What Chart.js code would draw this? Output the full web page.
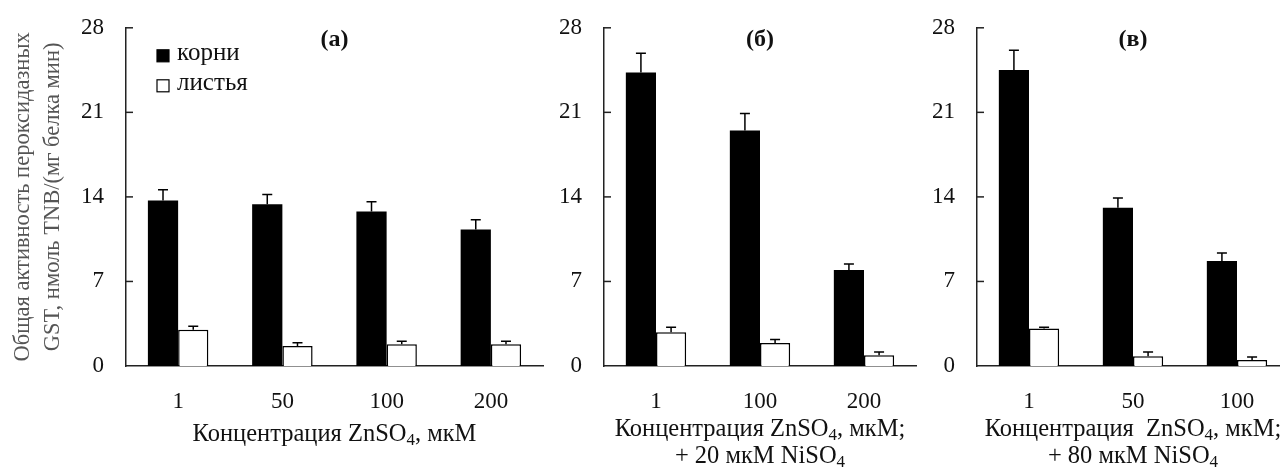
<!DOCTYPE html>
<html>
<head>
<meta charset="utf-8">
<script src="https://cdn.jsdelivr.net/npm/chart.js@4.4.1/dist/chart.umd.min.js"></script>
<style>
  html, body { margin: 0; padding: 0; background: #fff; overflow: hidden; }
  body { width: 1280px; height: 468px; position: relative; }
  canvas { position: absolute; top: 0; }
</style>
</head>
<body>
<canvas id="chartA" width="560" height="468" style="left:0px"></canvas>
<canvas id="chartB" width="400" height="468" style="left:540px"></canvas>
<canvas id="chartC" width="410" height="468" style="left:900px"></canvas>
<script>
const seriesNames = ["корни", "листья"];

// (а) ZnSO4 only
const labelsA = ["1", "50", "100", "200"];
const rootsA = [13.7, 13.4, 12.8, 11.3];
const rootsErrA = [0.9, 0.8, 0.8, 0.8];
const leavesA = [3.0, 1.65, 1.8, 1.8];
const leavesErrA = [0.3, 0.27, 0.25, 0.25];

// (б) ZnSO4 + 20 мкМ NiSO4
const labelsB = ["1", "100", "200"];
const rootsB = [24.3, 19.5, 7.95];
const rootsErrB = [1.6, 1.4, 0.5];
const leavesB = [2.8, 1.9, 0.9];
const leavesErrB = [0.4, 0.3, 0.25];

// (в) ZnSO4 + 80 мкМ NiSO4
const labelsC = ["1", "50", "100"];
const rootsC = [24.5, 13.1, 8.7];
const rootsErrC = [1.65, 0.8, 0.65];
const leavesC = [3.1, 0.8, 0.5];
const leavesErrC = [0.1, 0.35, 0.25];

const yMax = 28;
const yStep = 7;
const yTitle = ["Общая активность пероксидазных", "GST, нмоль TNB/(мг белка мин)"];
const xTitleA = ["Концентрация ZnSO₄, мкМ"];
const xTitleB = ["Концентрация ZnSO₄, мкМ;", "+ 20 мкМ NiSO₄"];
const xTitleC = ["Концентрация  ZnSO₄, мкМ;", "+ 80 мкМ NiSO₄"];

const FONT = "'Liberation Serif', 'Times New Roman', serif";

// draws text where "₄" becomes a smaller, lowered 4
function drawSubText(ctx, text, cx, cy, size) {
  const parts = text.split("₄");
  const subSize = Math.round(size * 0.68);
  let total = 0;
  parts.forEach((p, i) => {
    ctx.font = size + "px " + FONT;
    total += ctx.measureText(p).width;
    if (i < parts.length - 1) {
      ctx.font = subSize + "px " + FONT;
      total += ctx.measureText("4").width;
    }
  });
  let x = cx - total / 2;
  ctx.textAlign = "left";
  ctx.textBaseline = "middle";
  parts.forEach((p, i) => {
    ctx.font = size + "px " + FONT;
    ctx.fillText(p, x, cy);
    x += ctx.measureText(p).width;
    if (i < parts.length - 1) {
      ctx.font = subSize + "px " + FONT;
      ctx.fillText("4", x, cy + size * 0.22);
      x += ctx.measureText("4").width;
    }
  });
}

const errorBars = {
  id: "errorBars",
  afterDatasetsDraw(chart) {
    const { ctx, scales: { y } } = chart;
    ctx.save();
    ctx.strokeStyle = "#000";
    ctx.lineWidth = 1.5;
    chart.data.datasets.forEach((ds, i) => {
      chart.getDatasetMeta(i).data.forEach((bar, j) => {
        const top = y.getPixelForValue(ds.data[j] + ds.errors[j]);
        ctx.beginPath();
        ctx.moveTo(bar.x, bar.y);
        ctx.lineTo(bar.x, top);
        ctx.moveTo(bar.x - 5, top);
        ctx.lineTo(bar.x + 5, top);
        ctx.stroke();
      });
    });
    ctx.restore();
  }
};

const panelDecor = {
  id: "panelDecor",
  afterDraw(chart, args, opts) {
    const { ctx, chartArea: a, scales: { y } } = chart;
    const mid = (a.left + a.right) / 2;
    ctx.save();

    // y ticks point inward
    ctx.strokeStyle = "#222";
    ctx.lineWidth = 1.5;
    y.ticks.forEach(t => {
      if (t.value === 0) return;
      const py = y.getPixelForValue(t.value);
      ctx.beginPath();
      ctx.moveTo(a.left, py);
      ctx.lineTo(a.left + 7, py);
      ctx.stroke();
    });

    ctx.fillStyle = "#111";
    ctx.font = "bold 24px " + FONT;
    ctx.textAlign = "center";
    ctx.textBaseline = "middle";
    ctx.fillText(opts.letter, mid, a.top + 12);

    opts.xTitle.forEach((line, i) => drawSubText(ctx, line, mid, opts.xTitleY + i * 27, 24.5));

    if (opts.legend) {
      chart.data.datasets.forEach((ds, i) => {
        const bx = a.left + 31, by = a.top + 22 + i * 30;
        ctx.fillStyle = ds.backgroundColor;
        ctx.fillRect(bx, by, 12, 12);
        ctx.strokeStyle = "#000";
        ctx.lineWidth = 1.2;
        ctx.strokeRect(bx, by, 12, 12);
        ctx.fillStyle = "#111";
        ctx.font = "25px " + FONT;
        ctx.textAlign = "left";
        ctx.textBaseline = "middle";
        ctx.fillText(ds.label, bx + 20, by + 4);
      });
    }
    ctx.restore();
  }
};

function makePanel(id, labels, roots, rootsErr, leaves, leavesErr, cfg) {
  return new Chart(document.getElementById(id), {
    type: "bar",
    data: {
      labels: labels,
      datasets: [
        { label: seriesNames[0], data: roots, errors: rootsErr, backgroundColor: "#000", borderColor: "#000", borderWidth: 0 },
        { label: seriesNames[1], data: leaves, errors: leavesErr, backgroundColor: "#fff", borderColor: "#000", borderWidth: 1.5 }
      ]
    },
    options: {
      responsive: false,
      animation: false,
      layout: { padding: { top: 10, right: cfg.padRight, left: 0, bottom: 0 } },
      datasets: { bar: { categoryPercentage: 0.58, barPercentage: 1 } },
      plugins: {
        legend: { display: false },
        tooltip: { enabled: false },
        panelDecor: { letter: cfg.letter, xTitle: cfg.xTitle, xTitleY: cfg.xTitleY, legend: cfg.legend }
      },
      scales: {
        x: {
          grid: { display: false },
          border: { display: true, color: "#222", width: 1.5 },
          ticks: { color: "#111", font: { family: FONT, size: 23 }, padding: 14 },
          afterFit: s => { s.height = 102; }
        },
        y: {
          min: 0,
          max: yMax,
          grid: { display: false },
          border: { display: true, color: "#222", width: 1.5 },
          ticks: { stepSize: yStep, color: "#111", font: { family: FONT, size: 23 }, padding: 14 },
          title: {
            display: !!cfg.yTitle,
            text: cfg.yTitle || "",
            color: "#555",
            font: { family: FONT, size: 22.5, lineHeight: 1.35 },
            padding: { top: 8, bottom: 0 }
          },
          afterFit: s => { s.width = cfg.yWidth; }
        }
      }
    },
    plugins: [errorBars, panelDecor]
  });
}

makePanel("chartA", labelsA, rootsA, rootsErrA, leavesA, leavesErrA,
  { yWidth: 126, padRight: 17, letter: "(а)", xTitle: xTitleA, xTitleY: 435, legend: true, yTitle: yTitle });
makePanel("chartB", labelsB, rootsB, rootsErrB, leavesB, leavesErrB,
  { yWidth: 64, padRight: 24, letter: "(б)", xTitle: xTitleB, xTitleY: 430, legend: false });
makePanel("chartC", labelsC, rootsC, rootsErrC, leavesC, leavesErrC,
  { yWidth: 77, padRight: 21, letter: "(в)", xTitle: xTitleC, xTitleY: 430, legend: false });
</script>
</body>
</html>
